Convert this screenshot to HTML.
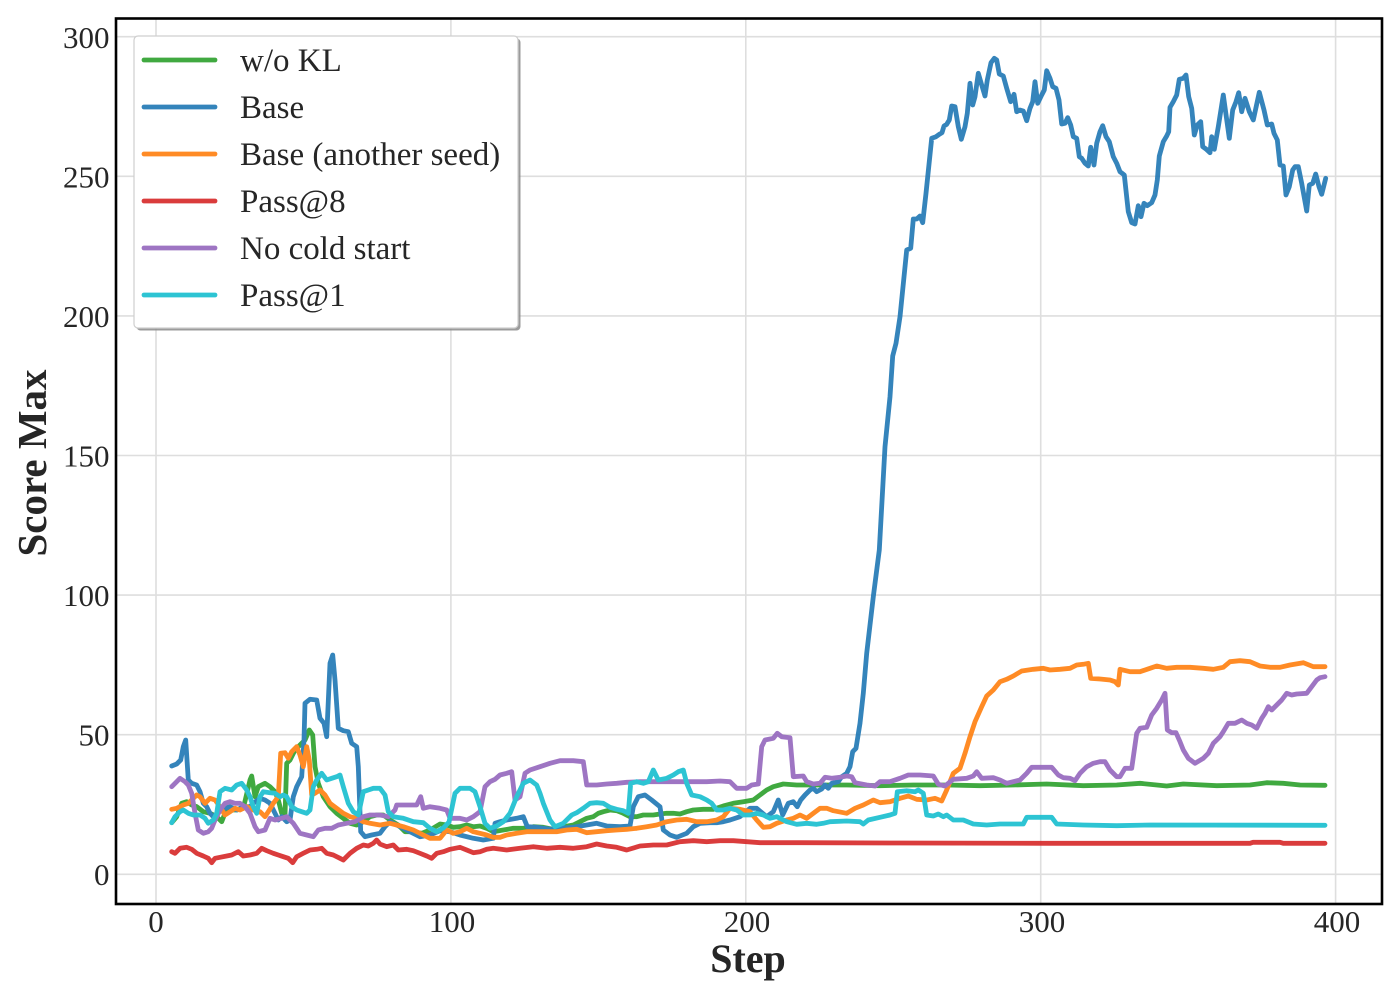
<!DOCTYPE html>
<html><head><meta charset="utf-8"><style>
html,body{margin:0;padding:0;background:#fff;}
svg{display:block;}
text{font-family:"Liberation Serif","DejaVu Serif",serif;fill:#262626;}
</style></head><body>
<svg width="1400" height="1000" viewBox="0 0 1400 1000" xmlns="http://www.w3.org/2000/svg">
<rect x="0" y="0" width="1400" height="1000" fill="#fff"/>
<!-- grid -->
<g stroke="#dedede" stroke-width="1.6">
<line x1="156" y1="18" x2="156" y2="904"/>
<line x1="450.9" y1="18" x2="450.9" y2="904"/>
<line x1="745.8" y1="18" x2="745.8" y2="904"/>
<line x1="1040.7" y1="18" x2="1040.7" y2="904"/>
<line x1="1335.6" y1="18" x2="1335.6" y2="904"/>
<line x1="116" y1="874.3" x2="1382" y2="874.3"/>
<line x1="116" y1="734.7" x2="1382" y2="734.7"/>
<line x1="116" y1="595.1" x2="1382" y2="595.1"/>
<line x1="116" y1="455.5" x2="1382" y2="455.5"/>
<line x1="116" y1="315.9" x2="1382" y2="315.9"/>
<line x1="116" y1="176.3" x2="1382" y2="176.3"/>
<line x1="116" y1="36.7" x2="1382" y2="36.7"/>
</g>
<!-- series -->
<g fill="none" stroke-width="4.8" stroke-linejoin="round" stroke-linecap="round" opacity="0.9">
<polyline stroke="#2ca02c" points="171.7,822.7 176.7,816.7 181.7,803.3 186.7,801.7 191.7,805 196.7,806.7 203.3,811.7 210,813.3 216.7,816.7 221.7,821.7 225,813.3 230,810 236.7,810 243.3,808.3 250,780 251.7,776 255,796.7 258.3,786.7 265,783.3 270,786.7 275,791.7 278.3,800 281.7,813.3 285,815 286.7,763.3 290,760 295,750 300,745 305,740 309.3,730 312.7,735 315,766.7 318.3,783.3 323.3,796.7 330,806.7 336.7,813.3 343.3,818.3 350,823.3 356.7,825 363.3,821.7 370,816.7 376.7,815 383.3,815 390,820 398.3,825 405,831.7 413.3,831.7 421.7,833.3 430,830 440,824 446.7,825 453.3,827.3 460,826.7 466.7,825 473.3,826.7 480,826 486.7,828.3 493.3,831.7 503.3,830 513.3,828.3 523.3,828.3 533.3,826.7 543.3,827.3 553.3,829.3 563.3,826.7 573.3,825 580,821.7 586.7,818.3 593.3,816.7 598.3,813.3 603.3,811.7 610,810 616.7,810.7 623.3,813.3 630,816.7 636.7,816.7 643.3,815 653.3,815 660,814 666.7,813.3 673.3,813.3 680,814 686.7,811.7 693.3,810 703.3,809.3 713.3,809.3 723.3,806 733.3,803.3 743.3,801.7 753.3,800 760,795 766.7,790 773.3,786.7 783.3,784 796.7,785 813.3,785 846.7,785 880,785.7 913.3,785 946.7,785 980,785.7 1013.3,785 1046.7,784 1083.3,785.7 1116.7,785 1140,783.3 1166.7,786 1183.3,784 1216.7,785.7 1250,785 1266.7,782.7 1283.3,783.3 1300,785 1325,785.3"/>
<polyline stroke="#1f77b4" points="171.7,766 176.7,764 180.7,760 183.3,746.7 185.7,740 188.3,780 191.7,783.3 196.7,785 200,791.7 203.3,803.3 206.7,806.7 210,813.3 213.3,816.7 219,812 225,808.3 230,806.7 236.7,810 243.3,806.7 250,806.7 253.3,803.3 260,798.3 265,800 270,803.3 275,813.3 278.3,820 281.7,816.7 286.7,821.7 290,820 293.3,796.7 296.7,786.7 301.7,776.7 304,740 305,703.3 310,699.3 316.7,700 320,718.3 324,723.3 326.7,736.7 330,663.3 332.7,655 335,680 338.3,728.3 343.3,730.7 348.3,731.7 351.7,743.3 356.7,746.7 358.3,766.7 360.7,831.7 365,836.7 371.7,835 380,833.3 385,826.7 390,821.7 396.7,825 410,831.7 420,836.7 430,835 440,830.7 450,831.7 460,835 473.3,838.3 483.3,840 493.3,838.3 495,823.3 500,821.7 506.7,820 516.7,818.3 523.3,816.7 527.3,826.7 536.7,827.3 550,829.3 560,828.3 573.3,827.3 586.7,825 596.7,823.3 606.7,826 620,826.7 630,826 633.3,806.7 638.3,796.7 645,795 651.7,800 660,806.7 663.3,830 670,835 676.7,837.3 686.7,833.3 693.3,826.7 700,823.3 710,822.7 716.7,822.7 723.3,821.7 730,820 740,816.7 750,808.3 756.7,808.3 766.7,816.7 773.3,811.7 778.3,800 782.7,815 788.3,803.3 793.3,801.7 797.3,806.7 800.7,800 805,795 810,790 813.3,788.3 816.7,791.7 821.7,789 825,785 828.3,788.3 831.7,783.3 838.3,781.7 841.7,776.7 846.7,773.3 850,766.7 852.7,751.7 856,748.3 860,723.3 863.3,693.3 866.7,653.3 873.3,596.7 879.3,550 885,446.7 890,396.7 892.7,356 896,343.3 900,316.7 906.7,250 910.7,248.3 913.3,219 916.7,219 920,216 922.7,222.7 926,193.3 931.7,138.3 936,136.7 939.3,134.3 942,132.7 944,126 946.7,124.3 949.3,120 951.7,106 955,106.7 958.3,126.7 961.3,139.3 965,126.7 967.3,113.3 970,83.3 972.7,105 975,96.7 978.3,73.3 981.7,85 985,96 987.3,80 991,62.7 994.3,58.3 996.7,60 999.3,74 1003.3,76 1006.7,88.3 1010.7,101.7 1014,94.3 1016.7,111.7 1020,110 1023.3,111 1026.7,120.7 1030,108.3 1032.7,101.7 1035,81.7 1037.7,103.3 1041.7,95 1044.3,90 1046.7,70.7 1050,78.3 1052.7,86.7 1056,88.3 1059,100 1061.7,124 1065,123.3 1067.7,117.7 1070.7,125 1073.3,136.7 1076.7,138.3 1079.3,156.7 1081.7,158.3 1085,163.3 1088.3,166 1090.7,147.3 1094,165 1096.7,143.3 1100,131.7 1102.7,125.7 1106,136.7 1109.3,141.7 1113.3,156.7 1116.7,163.3 1120,171.7 1124.3,175 1128.3,211.7 1131.7,222.7 1135,224 1138.3,205.7 1141,216.7 1144,203.3 1147.3,205.7 1151.7,202.7 1155,195 1157.3,180 1159.3,156 1163.3,141.7 1166.7,136 1168.7,131.7 1170,107.3 1173.3,101.7 1176.7,95 1179.3,79.3 1183.3,78.3 1186,75 1188.7,96.7 1191.7,108.3 1194.3,135 1197.3,125 1200.7,121.7 1202.7,146.7 1206,149 1210,152.7 1211.7,136.7 1214.3,149.3 1218.3,126.7 1223.3,95 1229.3,138.3 1232.7,110 1236,101.7 1238.7,92.7 1241.7,111.7 1245,98.3 1249.3,111.7 1253.3,120 1259.3,92.3 1264,110 1267.3,125 1271.7,124 1274,133.3 1277.3,140 1280,165 1283.3,166 1286,195 1289.3,186.7 1292.7,170 1295,166.7 1298.3,166.7 1301.7,183.3 1306.7,211 1309.3,185 1312.7,183.3 1315.7,174 1319,186.7 1321.7,194.3 1325.7,178.3"/>
<polyline stroke="#ff7f0e" points="171.7,809.3 176.7,808.3 183.3,805 188.3,803.3 193.3,798.3 196.7,795 200,796.7 205,803.3 210,798.3 215,800 220,806.7 225,815 230,811.7 235,808.3 240,810 246.7,806.7 253.3,810 260,811.7 265,816.7 268.3,811.7 273.3,803.3 278.3,796.7 280.7,753.3 285,752.7 288.3,758.3 291.7,751.7 296.7,746.7 300,755 303.3,766.7 306.7,746.7 309.3,760 311.7,795 315,793.3 320,790 325,795 330,803.3 336.7,808.3 343.3,813.3 350,816.7 356.7,818.3 363.3,821.7 370,823.3 380,825 390,823.3 396.7,825 403.3,826.7 413.3,830 423.3,835 430,838.3 440,838.3 446.7,830 453.3,833.3 460,831.7 466.7,828.3 473.3,831.7 480,833.3 486.7,835 493.3,837.3 500,837.3 506.7,835 516.7,833.3 526.7,831.7 536.7,831.7 546.7,831.7 556.7,831.7 566.7,830 576.7,829.3 586.7,832.7 596.7,831.7 606.7,830.7 616.7,830 626.7,829.3 636.7,828.3 646.7,826.7 656.7,825 666.7,821.7 676.7,820 686.7,819.3 696.7,821.7 706.7,821.7 716.7,820 723.3,816.7 730,808.3 740,809.3 750,811.7 756.7,820 763.3,827.3 770,826.7 776.7,823.3 786.7,820 793.3,818.3 800,815 806.7,818.3 813.3,813.3 820,808.3 826.7,808.3 833.3,810.7 846.7,813.3 855,808.3 863.3,805 873.3,800 880,802.7 890,801.7 900,798.3 908.3,796 916.7,799.3 926.7,800 935,798.3 941.7,801 946.7,790 953.3,773.3 960,768.3 965,753.3 970,736.7 975,721.7 981.7,706.7 986.7,696 993.3,690 1000,681.7 1006.7,679.3 1013.3,676 1021.7,671 1033.3,669.3 1043.3,668.3 1050,670 1060,669.3 1070,668.3 1076.7,665 1083.3,664.3 1088.3,663.3 1090.7,678.3 1100,679 1110,680 1115,681.7 1118.3,685 1120,669.3 1130,671.7 1140,671.7 1150,668.3 1156.7,666 1166.7,668.3 1176.7,667.3 1190,667.3 1203.3,668.3 1213.3,669.3 1223.3,667.3 1230,661.7 1240,660.7 1250,661.7 1260,666 1270,667.3 1280,667.3 1290,665 1303.3,662.7 1313.3,666.7 1325,666.7"/>
<polyline stroke="#d62728" points="171.7,851.7 175,853.3 180,848.3 186.7,847.3 191.7,849.3 196.7,853.3 203.3,856 208.3,858.3 211.7,862.7 215,858.3 220,857.3 226.7,856 231.7,855 238.3,851.7 243.3,856 250,855 256.7,853.3 261.7,848.3 266.7,850.7 273.3,853.3 278.3,855 283.3,856.7 288.3,858.3 292.7,862.7 296.7,856.7 303.3,853.3 310,850 316.7,849.3 321.7,848.3 326.7,853.3 333.3,855 340,858.3 343.3,860 350,853.3 356.7,848.3 363.3,845 368.3,846 373.3,843.3 376.7,840 380,844 386.7,846.7 393.3,845 398.3,850 406.7,849.3 413.3,850.7 420,853.3 426.7,856 431.7,858.3 436.7,853.3 443.3,851.7 450,849.3 460,847.3 466.7,850 473.3,852.7 480,851.7 486.7,849.3 493.3,848.3 506.7,850 520,848.3 533.3,846.7 546.7,848.3 560,847.3 573.3,848.3 586.7,846.7 596.7,844 606.7,846 616.7,847.3 626.7,850 640,846 653.3,845 666.7,845 680,841.7 693.3,840.7 706.7,841.7 720,840.7 733.3,840.7 746.7,841.7 760,842.7 800,842.7 900,843 1050,843.3 1250,843.3 1253,842.3 1280,842.3 1283.3,843.3 1325,843.3"/>
<polyline stroke="#9467bd" points="171.7,786.7 176.7,781.7 180,778.3 185,781.7 188.3,785 191.7,793.3 195,813.3 198.3,830 203.3,833.3 208.3,831.7 211.7,828.3 215,820 220,810 225,803.3 230,801.7 235,803.3 240,803.3 245,806.7 250,813.3 255,826.7 258.3,831.7 265,830 270,818.3 275,820 281.7,818.3 286.7,816.7 293.3,823.3 300,833.3 306.7,835 313.3,836.7 318.3,830 325,828.3 331.7,828.3 338.3,825 346.7,823.3 355,821.7 363.3,816.7 370,815 380,815 388.3,816.7 395,810 396.7,805 406.7,805 416.7,805 420.7,796.7 423.3,808.3 430,806.7 440,808.3 446.7,810 450,818.3 460,818.3 466.7,820 473.3,816.7 480,811.7 485,786.7 490,781.7 495,779.3 500,775 506.7,773.3 511.7,771.7 515,800 520,796.7 525,773.3 530,770 540,766.7 550,763.3 560,760.7 573.3,760.7 583.3,761.7 586.7,785 596.7,785 606.7,784 616.7,783.3 626.7,782.3 640,781.7 653.3,781.7 666.7,781.7 680,781.7 693.3,781.7 706.7,781.7 720,781 730,781.7 736.7,788.3 746.7,788.3 751.7,785 758.3,784 761.7,746.7 765,740 773.3,738.3 777.3,733.3 781.7,736.7 790,737.7 793.3,776.7 803.3,776 806.7,781.7 813.3,784 820,783.3 825,777.3 831.7,778.3 840,777.3 846.7,776 851.7,776.7 855,782.7 866.7,785 875,786 880,781.7 890,781.7 900,778.3 908.3,775 920,775 933.3,776 938.3,784.3 945,786 953.3,779.3 966.7,778.3 973.3,776 976.7,771.7 981.7,778.3 993.3,777.7 1000,780 1006.7,783.3 1020,780 1026.7,773.3 1031.7,767.3 1051.7,767.3 1058.3,775 1063.3,777.7 1070,778.3 1075,780.7 1080,773.3 1086.7,766.7 1093.3,763.3 1100,761.7 1105,761.7 1110,770 1116.7,776.7 1120,776.7 1125,768.3 1131.7,768.3 1136.7,733.3 1140,728.3 1146.7,727.3 1151.7,715 1156.7,708.3 1161.7,700 1165,693.3 1167.3,730 1171.7,732.7 1176,732.7 1180,741.7 1183.3,750 1188.3,758.3 1195,763.3 1203.3,758.3 1208.3,753.3 1213.3,743.3 1220,736.7 1223.3,731.7 1228.3,723.3 1235,723.3 1241.7,720 1246.7,723.3 1251.7,725 1256.7,728.3 1261.7,718.3 1265,713.3 1268.3,706.7 1271.7,710 1276.7,705 1281.7,700 1286.7,693.3 1291.7,695 1296.7,694 1306.7,693.3 1311.7,686.7 1316.7,680 1320,677.7 1325,676.7"/>
<polyline stroke="#17becf" points="171.7,822.7 175,816.7 180,811.7 183.3,810 188.3,813.3 193.3,815 200,815 205,818.3 208.3,823.3 213.3,820 216.7,813.3 220,791.7 225,788.3 231.7,790 236.7,785 241.7,783.3 246.7,790 250,796.7 253.3,806.7 256.7,813.3 260,796.7 263.3,791.7 270,792.7 275,793.3 280,796.7 283.3,795 286.7,796.7 291.7,806.7 296.7,810 301.7,811.7 306.7,813.3 310,810 313.3,786.7 316.7,780 321.7,773.3 326.7,780 331.7,778.3 336.7,776.7 340,775 343.3,786.7 348.3,803.3 353.3,811.7 358.3,815 363.3,791.7 368.3,790 373.3,788.3 380,788.3 385,795 388.3,811.7 393.3,816.7 403.3,818.3 413.3,821.7 423.3,822.7 430,828.3 436.7,831.7 443.3,828 449,822 455,793.3 460,788.3 470,788.3 475,791.7 480,806.7 485,823.3 490,828.3 496.7,826 503.3,821.7 510,813.3 516.7,796.7 523.3,783.3 530,780 536.7,785 540,793.3 543.3,803.3 550,820 555,826.7 563.3,823.3 571.7,815 576.7,812.7 583.3,808.3 590,803.3 596.7,802.7 603.3,803.3 610,807.3 616.7,809.3 623.3,810.7 628.3,813.3 630.7,783.3 636.7,781.7 643.3,783.3 648.3,781.7 653.3,770 658.3,780 666.7,778.3 673.3,775 678.3,771.7 683.3,770 686.7,783.3 691.7,795 700,796.7 706.7,800 711.7,803.3 716.7,810 723.3,810 730,808.3 736.7,810 743.3,815 750,815 756.7,813.3 763.3,815 770,818.3 776.7,816.7 783.3,820 786.7,821.7 796.7,824.3 806.7,823.3 816.7,824.3 823.3,823.3 830,821.7 846.7,821 860,821.7 863.3,824 868.3,820 880,817.3 890,815 895,813.3 897.3,791.7 906.7,790.7 915,791.7 918.3,790 923.3,793.3 926.7,815 933.3,816 938.3,814 943.3,816.7 946.7,815 953.3,820 963.3,820 973.3,824 986.7,825 1000,824 1023.3,824 1026.7,817.3 1040,817.3 1051.7,817.3 1056.7,824 1083.3,825 1116.7,825.7 1150,825 1325,825.3"/>
</g>
<!-- axes frame -->
<rect x="116" y="18.5" width="1266" height="885.5" fill="none" stroke="#000" stroke-width="2.6"/>
<!-- y tick labels -->
<g font-size="31" text-anchor="end">
<text x="109.5" y="885">0</text>
<text x="109.5" y="745.5">50</text>
<text x="109.5" y="606">100</text>
<text x="109.5" y="466.5">150</text>
<text x="109.5" y="327">200</text>
<text x="109.5" y="187.5">250</text>
<text x="109.5" y="48">300</text>
</g>
<!-- x tick labels -->
<g font-size="31" text-anchor="middle">
<text x="156" y="932">0</text>
<text x="452" y="932">100</text>
<text x="747" y="932">200</text>
<text x="1042" y="932">300</text>
<text x="1337" y="932">400</text>
</g>
<text x="748" y="972" font-size="40" font-weight="bold" text-anchor="middle">Step</text>
<text transform="translate(46,463) rotate(-90)" font-size="41" font-weight="bold" text-anchor="middle">Score Max</text>
<!-- legend -->
<rect x="136.5" y="38.5" width="384" height="292" rx="4" fill="#8a8a8a" opacity="0.85"/>
<rect x="134" y="36" width="384" height="292" rx="4" fill="#fff" stroke="#cfcfcf" stroke-width="1.2"/>
<g stroke-width="4.8" stroke-linecap="round" opacity="0.9">
<line x1="144" y1="60" x2="215" y2="60" stroke="#2ca02c"/>
<line x1="144" y1="107" x2="215" y2="107" stroke="#1f77b4"/>
<line x1="144" y1="154" x2="215" y2="154" stroke="#ff7f0e"/>
<line x1="144" y1="201" x2="215" y2="201" stroke="#d62728"/>
<line x1="144" y1="248" x2="215" y2="248" stroke="#9467bd"/>
<line x1="144" y1="295" x2="215" y2="295" stroke="#17becf"/>
</g>
<g font-size="33">
<text x="240" y="71">w/o KL</text>
<text x="240" y="118">Base</text>
<text x="240" y="165">Base (another seed)</text>
<text x="240" y="212">Pass@8</text>
<text x="240" y="259">No cold start</text>
<text x="240" y="306">Pass@1</text>
</g>
</svg>
</body></html>
